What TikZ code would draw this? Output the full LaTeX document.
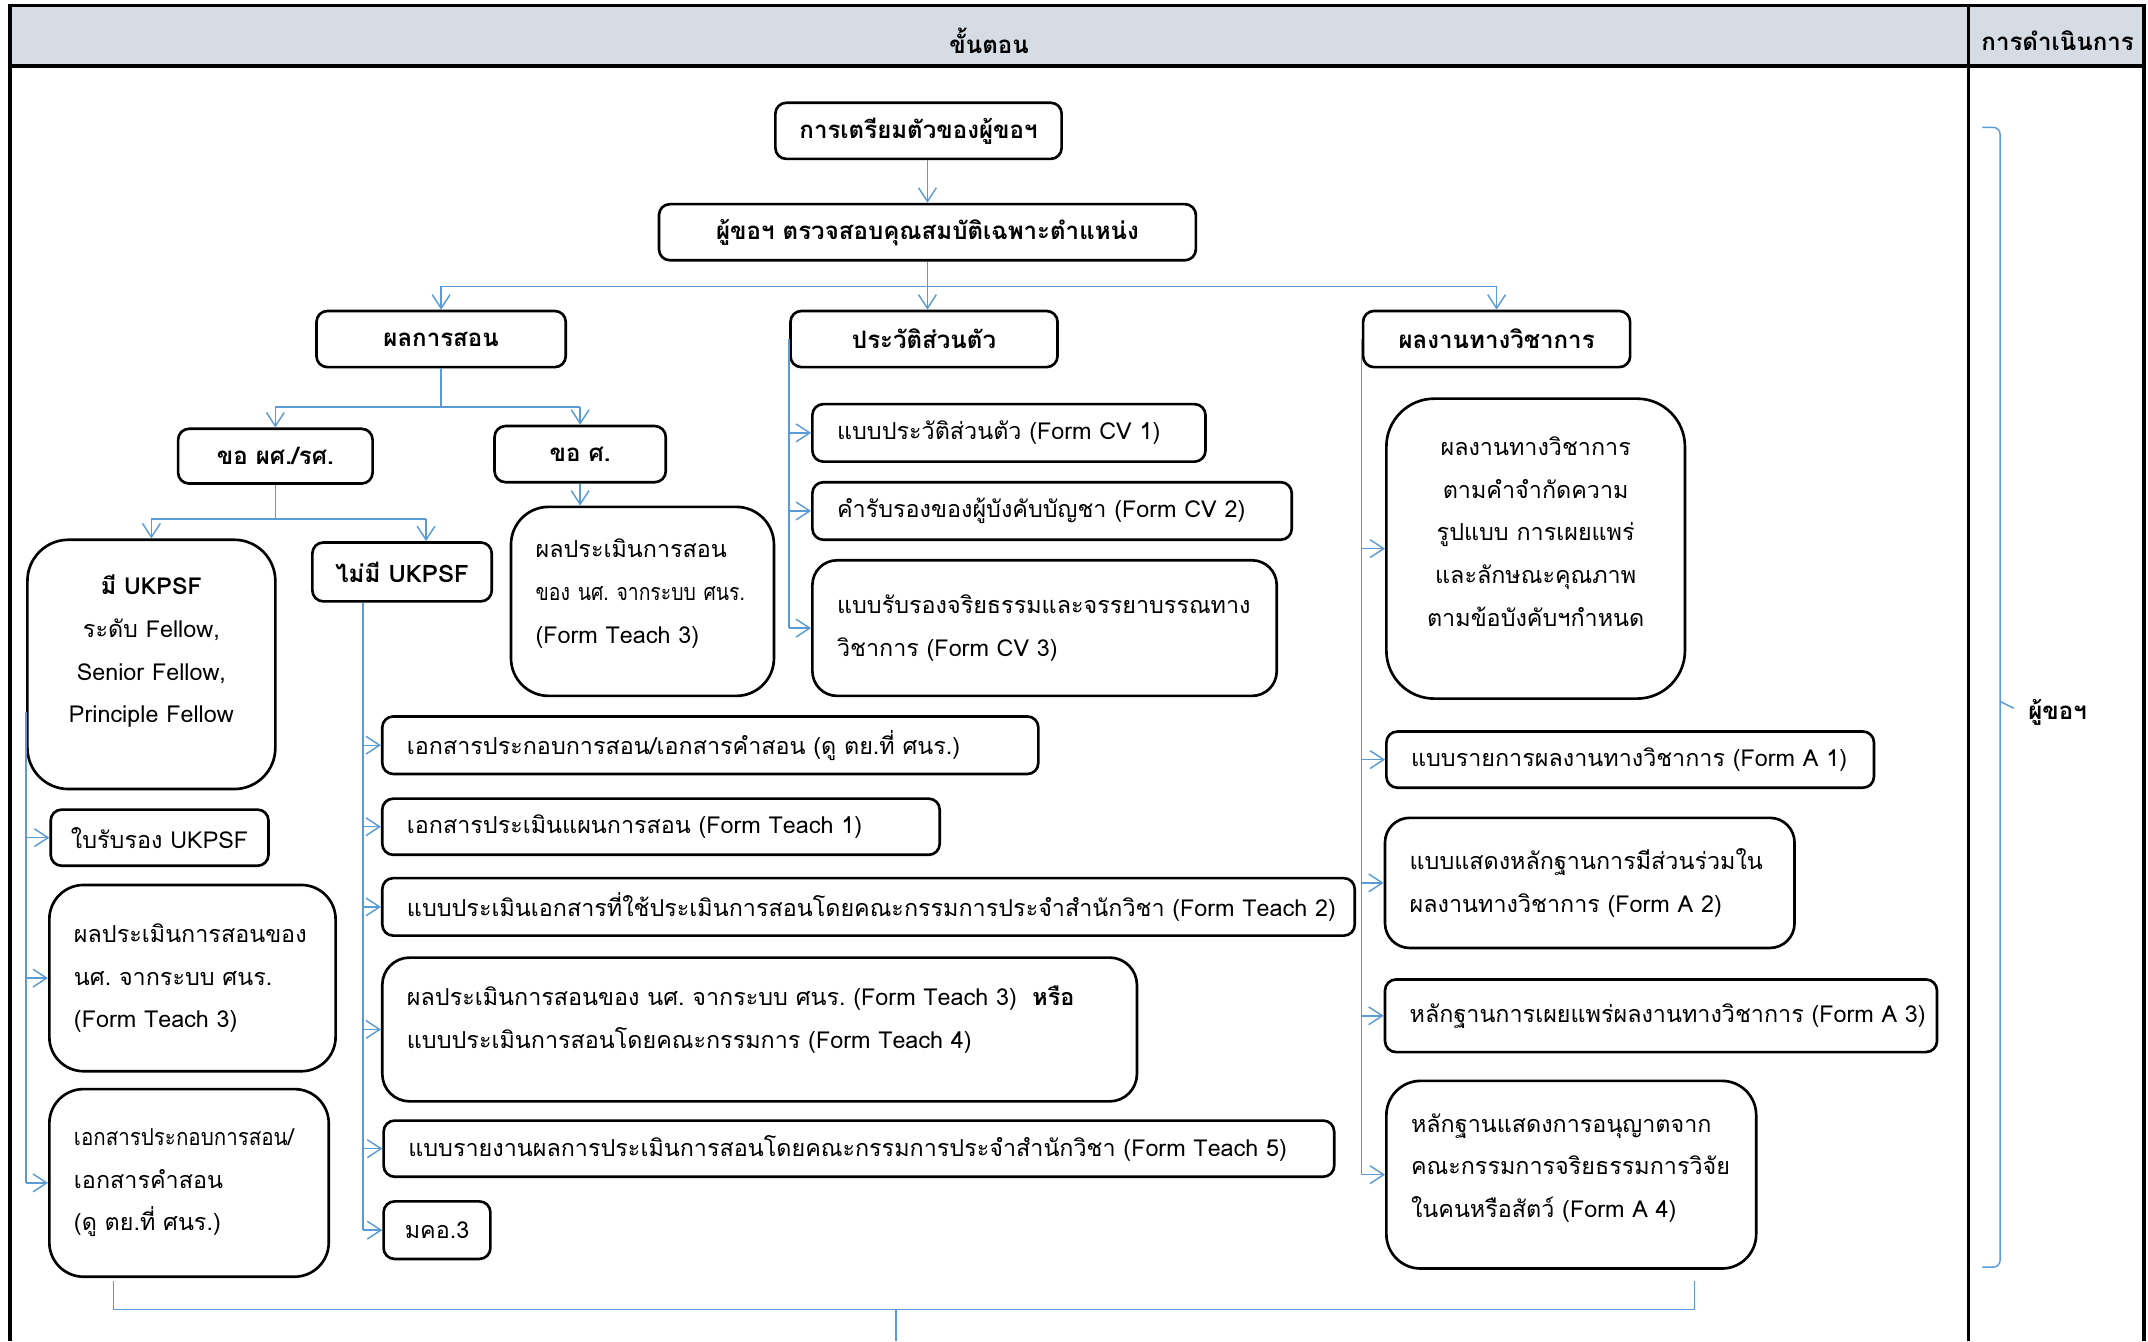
\documentclass[tikz,border=0pt]{standalone}
\usepackage{fontspec}
\setmainfont[Script=Thai]{Loma}
\usetikzlibrary{arrows.meta}
\frenchspacing

\definecolor{linkblue}{HTML}{5B9BD5}
\definecolor{headfill}{HTML}{D6DCE4}

\begin{document}
\begin{tikzpicture}[x=0.02cm,y=-0.02cm,
  box/.style={draw,line width=1.1pt,rounded corners=0.16cm,minimum height=0.82cm,inner sep=0pt,font=\fontsize{9.7}{17.7}\selectfont},
  head/.style={box,font=\bfseries\fontsize{10}{17.7}\selectfont},
  lbox/.style={box,align=left,inner xsep=0.36cm},
  line/.style={draw=linkblue,line width=0.6pt},
  link/.style={line,-{Straight Barb[length=0.2cm,width=0.26cm]}}]
\useasboundingbox (0,0) rectangle (1568,979);

% frame and header
\fill[headfill] (7,4) rectangle (1565,48);
\draw[line width=1.6pt] (7,979) -- (7,4) -- (1565,4) -- (1565,979);
\draw[line width=1.6pt] (7,48) -- (1565,48);
\draw[line width=1.6pt] (1437,4) -- (1437,979);
\node[font=\bfseries\fontsize{10}{12}\selectfont] (steps) at (722,30) {ขั้นตอน};
\node[font=\bfseries\fontsize{10}{12}\selectfont] (action) at (1502,30) {การดำเนินการ};

% top of the flow
\node[head,minimum width=4.18cm] (prep) at (670.5,95.5) {การเตรียมตัวของผู้ขอฯ};
\node[head,minimum width=7.84cm] (check) at (677,169.5) {ผู้ขอฯ ตรวจสอบคุณสมบัติเฉพาะตำแหน่ง};
\node[head,minimum width=3.64cm] (teach) at (322,247.5) {ผลการสอน};
\node[head,minimum width=3.9cm] (cv) at (674.5,247.5) {ประวัติส่วนตัว};
\node[head,minimum width=3.9cm] (acad) at (1092.5,247.5) {ผลงานทางวิชาการ};
\node[head,minimum width=2.84cm,minimum height=0.8cm] (asst) at (201,333) {ขอ ผศ./รศ.};
\node[head,minimum width=2.5cm] (prof) at (423.5,331.5) {ขอ ศ.};
\node[head,minimum width=2.62cm,minimum height=0.86cm] (hasnot) at (293.5,417.5) {ไม่มี UKPSF};
\node[lbox,align=center,text width=2.9cm,text depth=66pt,rounded corners=0.6cm,minimum height=3.64cm] (has) at (110.5,485)
  {\textbf{มี UKPSF}\\ระดับ~Fellow,\\Senior~Fellow,\\Principle~Fellow};
\node[lbox,text depth=44pt,rounded corners=0.55cm,text width=3.12cm,minimum height=2.76cm] (evalp) at (469,439)
  {ผลประเมินการสอน\\{\addfontfeature{FakeStretch=0.83}ของ~นศ.~จากระบบ~ศนร.}\\(Form~Teach~3)};

% personal record
\node[lbox,text width=5.02cm,minimum height=0.84cm] (cv1) at (736.5,316) {แบบประวัติส่วนตัว~(Form~CV~1)};
\node[lbox,text width=6.28cm,minimum height=0.84cm] (cv2) at (768,373) {คำรับรองของผู้บังคับบัญชา~(Form~CV~2)};
\node[lbox,rounded corners=0.36cm,text width=6.06cm,minimum height=1.98cm] (cv3) at (762.5,458.5)
  {แบบรับรองจริยธรรมและจรรยาบรรณทาง\\วิชาการ~(Form~CV~3)};

% with UKPSF
\node[box,minimum width=3.18cm] (cert) at (116.5,611.5) {ใบรับรอง UKPSF};
\node[lbox,rounded corners=0.5cm,text width=3.46cm,minimum height=2.72cm] (evalh) at (140.5,714)
  {ผลประเมินการสอนของ\\นศ.~จากระบบ~ศนร.\\(Form~Teach~3)};
\node[lbox,rounded corners=0.5cm,text width=3.36cm,minimum height=2.74cm] (docsh) at (138,863.5)
  {{\addfontfeature{FakeStretch=0.88}เอกสารประกอบการสอน/}\\เอกสารคำสอน\\(ดู~ตย.ที่~ศนร.)};

% without UKPSF
\node[lbox,text width=8.86cm,minimum height=0.84cm] (docsn) at (518.5,544) {เอกสารประกอบการสอน/เอกสารคำสอน~(ดู~ตย.ที่~ศนร.)};
\node[lbox,text width=7.42cm] (form1) at (482.5,603.5) {เอกสารประเมินแผนการสอน~(Form~Teach~1)};
\node[lbox,text width=13.48cm,minimum height=0.84cm] (form2) at (634,662) {แบบประเมินเอกสารที่ใช้ประเมินการสอนโดยคณะกรรมการประจำสำนักวิชา~(Form~Teach~2)};
\node[lbox,text depth=28pt,rounded corners=0.4cm,text width=10.3cm,minimum height=2.1cm] (form34) at (554.5,751.5)
  {ผลประเมินการสอนของ~นศ.~จากระบบ~ศนร.~(Form~Teach~3)~~\textbf{หรือ}\\แบบประเมินการสอนโดยคณะกรรมการ~(Form~Teach~4)};
\node[lbox,text width=13.16cm] (form5) at (627,838.5) {แบบรายงานผลการประเมินการสอนโดยคณะกรรมการประจำสำนักวิชา~(Form~Teach~5)};
\node[box,minimum width=1.56cm,minimum height=0.84cm] (tqf) at (319,898) {มคอ.3};

% academic work
\node[lbox,align=center,text width=3.64cm,text depth=85pt,rounded corners=0.7cm,minimum height=4.38cm] (adef) at (1121,400.5)
  {ผลงานทางวิชาการ\\ตามคำจำกัดความ\\รูปแบบ~การเผยแพร่\\และลักษณะคุณภาพ\\ตามข้อบังคับฯกำหนด};
\node[lbox,text width=6.4cm] (formA1) at (1190,554.5) {แบบรายการผลงานทางวิชาการ~(Form~A~1)};
\node[lbox,rounded corners=0.36cm,text width=5.26cm,minimum height=1.9cm] (formA2) at (1160.5,644.5)
  {แบบแสดงหลักฐานการมีส่วนร่วมใน\\ผลงานทางวิชาการ~(Form~A~2)};
\node[lbox,text width=7.34cm,minimum height=1.06cm] (formA3) at (1212.5,741.5) {หลักฐานการเผยแพร่ผลงานทางวิชาการ~(Form~A~3)};
\node[lbox,text depth=43pt,rounded corners=0.5cm,text width=4.68cm,minimum height=2.74cm] (formA4) at (1147,857.5)
  {หลักฐานแสดงการอนุญาตจาก\\คณะกรรมการจริยธรรมการวิจัย\\ในคนหรือสัตว์~(Form~A~4)};

\node[font=\bfseries\fontsize{10}{12}\selectfont] (who) at (1502,520) {ผู้ขอฯ};

% connectors
\draw[link] (prep.south -| check.north) -- (check.north);
\coordinate (split) at (0,209);
\draw[line] (teach.north |- split) -- (acad.north |- split);
\draw[link] (check.south) -- (check.south |- cv.north);
\draw[link] (teach.north |- split) -- (teach.north);
\draw[link] (acad.north |- split) -- (acad.north);

\coordinate (splitt) at (0,297);
\draw[line] (teach.south) -- (teach.south |- splitt);
\draw[line] (asst.north |- splitt) -- (prof.north |- splitt);
\draw[link] (asst.north |- splitt) -- (asst.north);
\draw[link] (prof.north |- splitt) -- (prof.north);
\draw[link] (prof.south) -- (prof.south |- evalp.north);

\coordinate (splita) at (0,379);
\coordinate (hasnotin) at ([xshift=0.35cm]hasnot.north);
\draw[line] (asst.south) -- (asst.south |- splita);
\draw[line] (has.north |- splita) -- (hasnotin |- splita);
\draw[link] (has.north |- splita) -- (has.north);
\draw[link] (hasnotin |- splita) -- (hasnotin);

\draw[line] (cv.west) -- (cv.west |- cv3.west);
\foreach \n in {cv1,cv2,cv3}
  \draw[link] (cv.west |- \n.west) -- (\n.west);

\draw[line] ([yshift=-0.7cm]has.west) -- (has.west |- docsh.west);
\foreach \n in {cert,evalh,docsh}
  \draw[link] (has.west |- \n.west) -- (\n.west);

\coordinate (hasnotout) at ([xshift=-0.57cm]hasnot.south);
\draw[line] (hasnotout) -- (hasnotout |- tqf.west);
\foreach \n in {docsn,form1,form2,form34,form5,tqf}
  \draw[link] (hasnotout |- \n.west) -- (\n.west);

\draw[line] (acad.west) -- (acad.west |- formA4.west);
\foreach \n in {adef,formA1,formA2,formA3,formA4}
  \draw[link] (acad.west |- \n.west) -- (\n.west);

% joining line at the bottom
\coordinate (joinl) at (83,935);
\coordinate (joinr) at (1237,935);
\coordinate (next) at (654,979);
\draw[line] (joinl) -- (83,956) -- (1237,956) -- (joinr);
\draw[line] (next |- 0,956) -- (next);

% brace for the applicant
\draw[line] (1447,93) -- (1455,93) to[out=0,in=90] (1460,98) -- (1460,512) -- (1470,517)
  (1460,512) -- (1460,520) -- (1460,920) to[out=-90,in=0] (1455,925) -- (1447,925);
\end{tikzpicture}
\end{document}
